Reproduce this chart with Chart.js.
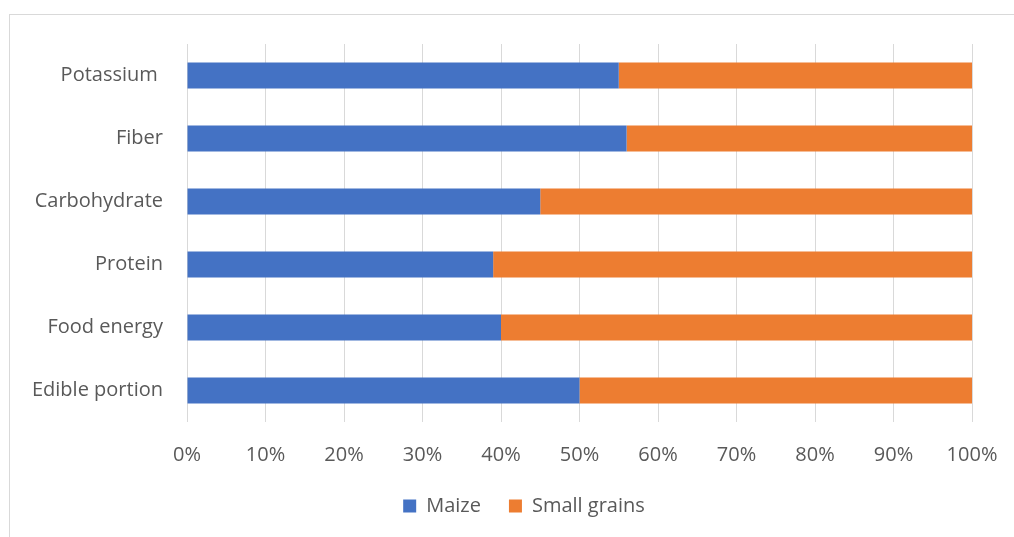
<!DOCTYPE html>
<html>
<head>
<meta charset="utf-8">
<script src="https://cdn.jsdelivr.net/npm/chart.js@4.4.0/dist/chart.umd.min.js"></script>
<style>
  html, body { margin: 0; padding: 0; background: #fff; }
  #wrap { position: relative; width: 1014px; height: 537px; overflow: hidden; }
  #frame { position: absolute; left: 9px; top: 14px; width: 1100px; height: 600px;
           border: 1px solid #d9d9d9; box-sizing: border-box; }
  #chart { position: absolute; left: 0; top: 0; }
</style>
</head>
<body>
<div id="wrap">
  <div id="frame"></div>
  <canvas id="chart" width="1014" height="537"></canvas>
</div>
<script>
(function() {
    'use strict';

    // Nutrient categories, top to bottom
    var categories = ['Potassium ', 'Fiber', 'Carbohydrate', 'Protein', 'Food energy', 'Edible portion'];

    // Share of each nutrient (percent)
    var maize       = [55, 56, 45, 39, 40, 50];
    var smallGrains = [45, 44, 55, 61, 60, 50];

    var seriesNames = ['Maize', 'Small grains'];
    var seriesColors = ['#4472C4', '#ED7D31'];

    var fontFamily = '"Open Sans", "Liberation Sans", sans-serif';
    var textColor = '#595959';

    Chart.defaults.font.family = fontFamily;
    Chart.defaults.color = textColor;

    // Centre the legend under the whole frame rather than the canvas
    var legendShift = {
        id : 'legendShift',
        afterLayout : function(chart, args, opts) {
            if (!chart.legend) {
                return;
            }
            chart.legend.left += opts.offset;
            chart.legend.right += opts.offset;
        }
    };

    var ctx = document.getElementById('chart').getContext('2d');

    new Chart(ctx, {
        type : 'bar',
        data : {
            labels : categories,
            datasets : [
                {
                    label : seriesNames[0],
                    data : maize,
                    backgroundColor : seriesColors[0],
                    borderWidth : 0,
                    barPercentage : 0.415,
                    categoryPercentage : 1
                },
                {
                    label : seriesNames[1],
                    data : smallGrains,
                    backgroundColor : seriesColors[1],
                    borderWidth : 0,
                    barPercentage : 0.415,
                    categoryPercentage : 1
                }
            ]
        },
        options : {
            indexAxis : 'y',
            responsive : false,
            animation : false,
            layout : {
                padding : { top : 44, right : 42, left : 0, bottom : 11 }
            },
            scales : {
                x : {
                    stacked : true,
                    min : 0,
                    max : 100,
                    grid : { color : '#d9d9d9', lineWidth : 1, drawTicks : false },
                    border : { display : false },
                    ticks : {
                        stepSize : 10,
                        padding : 21,
                        font : { size : 20 },
                        callback : function(value) { return value + '%'; }
                    },
                    afterFit : function(scale) {
                        scale.height = 46;
                        scale.paddingLeft = 0;
                        scale.paddingRight = 0;
                    }
                },
                y : {
                    stacked : true,
                    grid : { display : false, drawTicks : false },
                    border : { display : false },
                    ticks : {
                        padding : 24,
                        font : { size : 20 }
                    },
                    afterFit : function(scale) { scale.width = 187; }
                }
            },
            plugins : {
                legend : {
                    position : 'bottom',
                    labels : {
                        boxWidth : 13,
                        boxHeight : 13,
                        padding : 28,
                        font : { size : 20 }
                    }
                },
                legendShift : { offset : 38 },
                tooltip : { enabled : false }
            }
        },
        plugins : [legendShift]
    });
})();
</script>
</body>
</html>
